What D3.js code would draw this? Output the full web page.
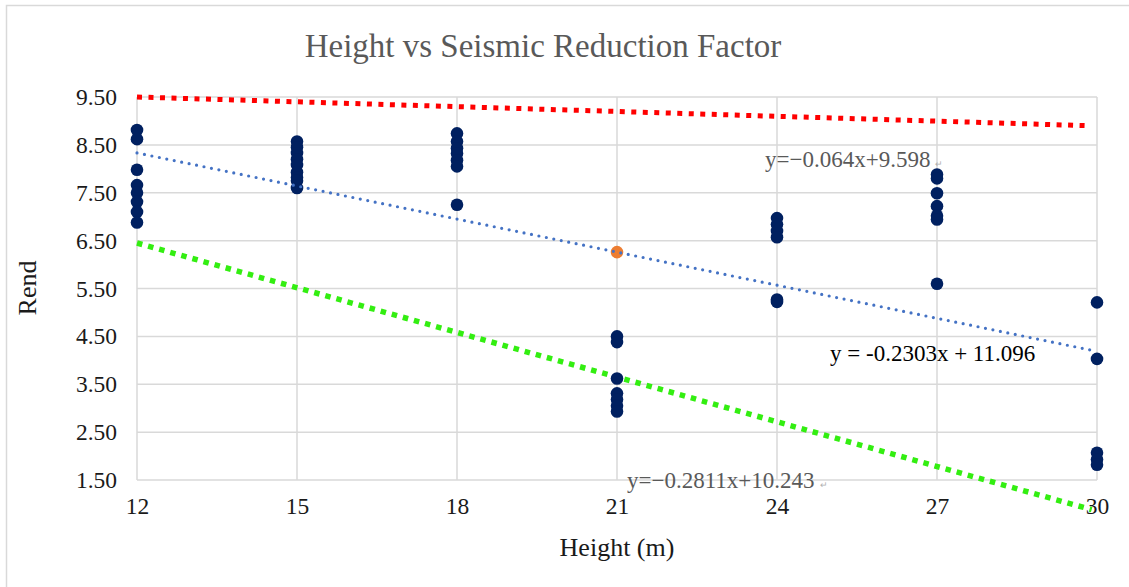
<!DOCTYPE html>
<html>
<head>
<meta charset="utf-8">
<script src="https://cdn.jsdelivr.net/npm/d3@7"></script>
<style>
  body { margin: 0; background: #fff; }
  svg { display: block; font-family: "Liberation Serif", "Times New Roman", serif; }
</style>
</head>
<body>
<svg id="chart" width="1129" height="587"></svg>
<script>
'use strict';

const xTicks = [12, 15, 18, 21, 24, 27, 30];
const yTicks = [1.5, 2.5, 3.5, 4.5, 5.5, 6.5, 7.5, 8.5, 9.5];

// measured points, height (m) and Rend
const heights = [
  12, 12, 12, 12, 12, 12, 12, 12,
  15, 15, 15, 15, 15, 15, 15, 15, 15,
  18, 18, 18, 18, 18, 18, 18,
  21, 21, 21, 21, 21, 21, 21,
  24, 24, 24, 24, 24, 24,
  27, 27, 27, 27, 27, 27, 27,
  30, 30, 30, 30, 30
];
const rend = [
  8.81, 8.62, 7.98, 7.66, 7.50, 7.31, 7.10, 6.88,
  8.57, 8.45, 8.33, 8.20, 8.08, 7.93, 7.82, 7.75, 7.60,
  8.74, 8.57, 8.43, 8.32, 8.18, 8.05, 7.25,
  4.50, 4.38, 3.62, 3.31, 3.18, 3.05, 2.93,
  6.97, 6.84, 6.70, 6.57, 5.27, 5.22,
  7.88, 7.80, 7.49, 7.22, 7.02, 6.94, 5.60,
  5.21, 4.03, 2.07, 1.93, 1.82
];

// highlighted point
const highlightX = [21];
const highlightY = [6.26];

// upper / lower bound lines (drawn by hand on the original) and trend line
const upperX = [12, 29.85];
const upperY = [9.50, 8.90];
const trendX = [12, 30];
const trendY = [-0.2303 * 12 + 11.096, -0.2303 * 30 + 11.096];
const lowerX = [12, 29.9];
const lowerY = [6.45, 0.88];

const svg = d3.select("#chart");

// outer chart frame
svg.append("rect")
  .attr("x", 6.5).attr("y", 5.5)
  .attr("width", 1200).attr("height", 700)
  .attr("fill", "none")
  .attr("stroke", "#d9d9d9")
  .attr("stroke-width", 1.5);

const x = d3.scaleLinear().domain([12, 30]).range([137, 1097]);
const y = d3.scaleLinear().domain([1.5, 9.5]).range([480, 97]);

// gridlines
svg.append("g")
  .selectAll("line")
  .data(yTicks)
  .enter().append("line")
  .attr("x1", x(12)).attr("x2", x(30))
  .attr("y1", d => y(d)).attr("y2", d => y(d))
  .attr("stroke", "#d9d9d9")
  .attr("stroke-width", 1.5);

svg.append("g")
  .selectAll("line")
  .data(xTicks)
  .enter().append("line")
  .attr("x1", d => x(d)).attr("x2", d => x(d))
  .attr("y1", y(9.5)).attr("y2", y(1.5))
  .attr("stroke", "#d9d9d9")
  .attr("stroke-width", 1.5);

// axes (labels only, lines are the gridlines)
const yAxis = svg.append("g")
  .attr("transform", `translate(${x(12)},0)`)
  .call(d3.axisLeft(y).tickValues(yTicks).tickFormat(d3.format(".2f")).tickSize(0).tickPadding(20));
const xAxis = svg.append("g")
  .attr("transform", `translate(0,${y(1.5)})`)
  .call(d3.axisBottom(x).tickValues(xTicks).tickSize(0).tickPadding(17));
[yAxis, xAxis].forEach(a => {
  a.select(".domain").remove();
  a.selectAll("text")
    .attr("font-family", "Liberation Serif, Times New Roman, serif")
    .attr("font-size", "23.5px")
    .attr("fill", "#1a1a1a");
});

// trend / bound lines
const lineGen = d3.line().x(d => x(d[0])).y(d => y(d[1]));

svg.append("path")
  .datum(upperX.map((v, i) => [v, upperY[i]]))
  .attr("d", lineGen)
  .attr("fill", "none")
  .attr("stroke", "#ff0000")
  .attr("stroke-width", 5)
  .attr("stroke-dasharray", "5 6.5");

svg.append("path")
  .datum(lowerX.map((v, i) => [v, lowerY[i]]))
  .attr("d", lineGen)
  .attr("fill", "none")
  .attr("stroke", "#33ee11")
  .attr("stroke-width", 5.5)
  .attr("stroke-dasharray", "5.5 6");

// data points
svg.append("g")
  .selectAll("circle")
  .data(heights.map((h, i) => [h, rend[i]]))
  .enter().append("circle")
  .attr("cx", d => x(d[0]))
  .attr("cy", d => y(d[1]))
  .attr("r", 6.3)
  .attr("fill", "#002060");

svg.append("g")
  .selectAll("circle")
  .data(highlightX.map((h, i) => [h, highlightY[i]]))
  .enter().append("circle")
  .attr("cx", d => x(d[0]))
  .attr("cy", d => y(d[1]))
  .attr("r", 6.3)
  .attr("fill", "#ed7d31");

svg.append("path")
  .datum(trendX.map((v, i) => [v, trendY[i]]))
  .attr("d", lineGen)
  .attr("fill", "none")
  .attr("stroke", "#4472c4")
  .attr("stroke-width", 3.2)
  .attr("stroke-linecap", "round")
  .attr("stroke-dasharray", "0 7.6");

// title and axis titles
svg.append("text")
  .attr("x", 543).attr("y", 57)
  .attr("text-anchor", "middle")
  .attr("font-size", "33px")
  .attr("fill", "#595959")
  .text("Height vs Seismic Reduction Factor");

svg.append("text")
  .attr("x", 617).attr("y", 556)
  .attr("text-anchor", "middle")
  .attr("font-size", "26px")
  .attr("fill", "#1a1a1a")
  .text("Height (m)");

svg.append("text")
  .attr("transform", "translate(36,288) rotate(-90)")
  .attr("text-anchor", "middle")
  .attr("font-size", "26px")
  .attr("fill", "#1a1a1a")
  .text("Rend");

// equation labels
const eqText = ["y=\u22120.064x+9.598", "y = -0.2303x + 11.096", "y=\u22120.2811x+10.243"];
const eqX = [765, 830, 627];
const eqY = [167, 361, 488];
const eqMark = [true, false, true];
const eqColor = ["#595959", "#000000", "#595959"];

eqText.forEach((t, i) => {
  const txt = svg.append("text")
    .attr("x", eqX[i]).attr("y", eqY[i])
    .attr("font-size", "23px")
    .attr("fill", eqColor[i])
    .text(t);
  if (eqMark[i]) {
    txt.append("tspan")
      .attr("dx", 5)
      .attr("font-size", "9px")
      .attr("fill", "#b0b0b0")
      .text("\u21B5");
  }
});
</script>
</body>
</html>
